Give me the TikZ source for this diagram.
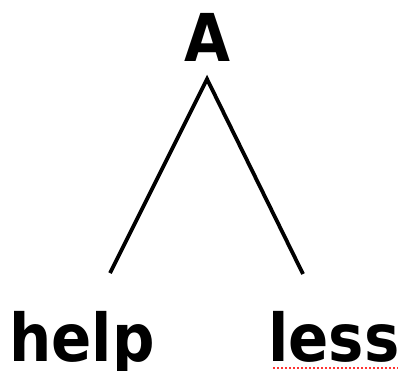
\documentclass[tikz,border=0pt]{standalone}
\usepackage{fontspec}
\newfontfamily\treefont{DejaVu Sans Condensed}[BoldFont={DejaVu Sans Condensed Bold}]
\begin{document}
\begin{tikzpicture}[x=1pt,y=-1pt,
  word/.style={inner sep=0pt,font=\treefont\bfseries\fontsize{66}{66}\selectfont},
  branch/.style={line width=3.8pt}]
\useasboundingbox (0,0) rectangle (398,371);
\node[word,anchor=base] (A) at (207,62) {A};
\node[word,anchor=base west] (help) at (9,361) {help};
\node[word,anchor=base west] (less) at (268,361) {less};
\coordinate (apex) at (207,79);
\coordinate (lend) at (110,273);
\coordinate (rend) at (303,274);
\coordinate (ulstart) at (273,368);
\coordinate (ulend) at (398,368);
\draw[branch] (lend) -- (apex) -- (rend);
\draw[red!80,line width=1.8pt,dash pattern=on 2pt off 2pt] (ulstart) -- (ulend);
\end{tikzpicture}
\end{document}
